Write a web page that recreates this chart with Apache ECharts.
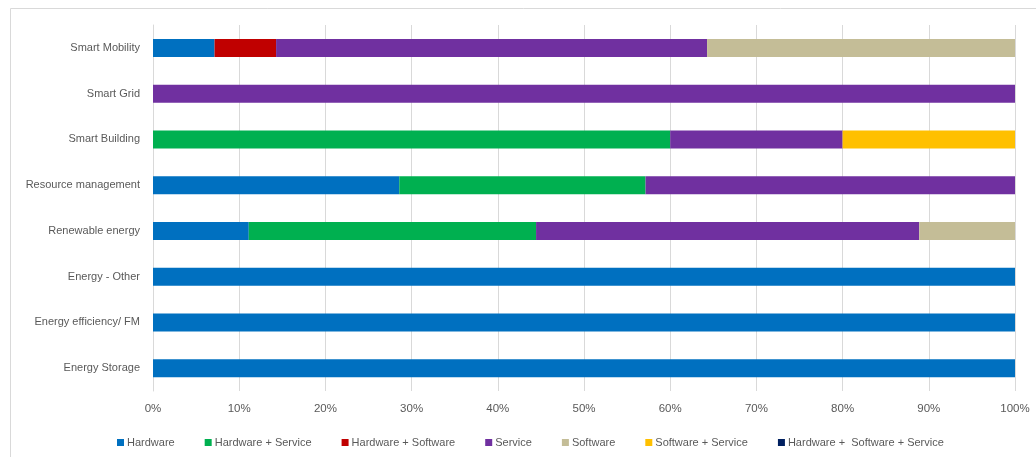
<!DOCTYPE html>
<html>
<head>
<meta charset="utf-8">
<script src="https://cdn.jsdelivr.net/npm/echarts@6/dist/echarts.min.js"></script>
<style>
  html, body { margin: 0; padding: 0; background: #fff; }
  #chart { width: 1036px; height: 457px; }
</style>
</head>
<body>
<div id="chart"></div>
<script>
// Sectors, listed top to bottom
const sectors = [
  'Smart Mobility',
  'Smart Grid',
  'Smart Building',
  'Resource management',
  'Renewable energy',
  'Energy - Other',
  'Energy efficiency/ FM',
  'Energy Storage'
];

// Share of offerings per sector (%)
const hardware            = [7.14, 0,   0,  28.57, 11.11, 100, 100, 100];
const hardwareService     = [0,    0,   60, 28.57, 33.33, 0,   0,   0];
const hardwareSoftware    = [7.14, 0,   0,  0,     0,     0,   0,   0];
const service             = [50,   100, 20, 42.86, 44.45, 0,   0,   0];
const software            = [35.72, 0,  0,  0,     11.11, 0,   0,   0];
const softwareService     = [0,    0,   20, 0,     0,     0,   0,   0];
const hardwareSoftwareSvc = [0,    0,   0,  0,     0,     0,   0,   0];

const xTicks = [0, 10, 20, 30, 40, 50, 60, 70, 80, 90, 100];

const seriesDefs = [
  { name: 'Hardware', data: hardware, color: '#0070C0' },
  { name: 'Hardware + Service', data: hardwareService, color: '#00B050' },
  { name: 'Hardware + Software', data: hardwareSoftware, color: '#C00000' },
  { name: 'Service', data: service, color: '#7030A0' },
  { name: 'Software', data: software, color: '#C4BD97' },
  { name: 'Software + Service', data: softwareService, color: '#FFC000' },
  { name: 'Hardware +  Software + Service', data: hardwareSoftwareSvc, color: '#002060' }
];

const FONT = '"Liberation Sans", Arial, sans-serif';
const chart = echarts.init(document.getElementById('chart'), null, { renderer: 'canvas' });

chart.setOption({
  animation: false,
  textStyle: { fontFamily: FONT },
  graphic: [{
    type: 'rect',
    shape: { x: 10.5, y: 8.5, width: 1040, height: 470 },
    style: { fill: 'none', stroke: '#D9D9D9', lineWidth: 1 },
    silent: true
  }],
  grid: { left: 153, right: 21, top: 25, bottom: 66, containLabel: false },
  legend: {
    left: 112,
    top: 432,
    itemWidth: 7,
    itemHeight: 7,
    itemGap: 30,
    icon: 'rect',
    textStyle: { color: '#595959', fontSize: 11, fontFamily: FONT, padding: [0, 0, 0, -2] },
    data: seriesDefs.map(s => s.name)
  },
  xAxis: {
    type: 'value',
    min: xTicks[0],
    max: xTicks[xTicks.length - 1],
    interval: 10,
    axisLine: { show: false },
    axisTick: { show: false },
    splitLine: { show: true, lineStyle: { color: '#D9D9D9', width: 1 } },
    axisLabel: { color: '#595959', fontSize: 11.5, margin: 12, fontFamily: FONT, formatter: v => v + '%' }
  },
  yAxis: {
    type: 'category',
    inverse: true,
    data: sectors,
    axisLine: { show: true, lineStyle: { color: '#D9D9D9' } },
    axisTick: { show: false },
    axisLabel: { color: '#595959', fontSize: 11, margin: 13, fontFamily: FONT }
  },
  series: seriesDefs.map(s => ({
    name: s.name,
    type: 'bar',
    stack: 'total',
    barWidth: 18,
    data: s.data,
    itemStyle: { color: s.color },
    emphasis: { disabled: true }
  }))
});
</script>
</body>
</html>
